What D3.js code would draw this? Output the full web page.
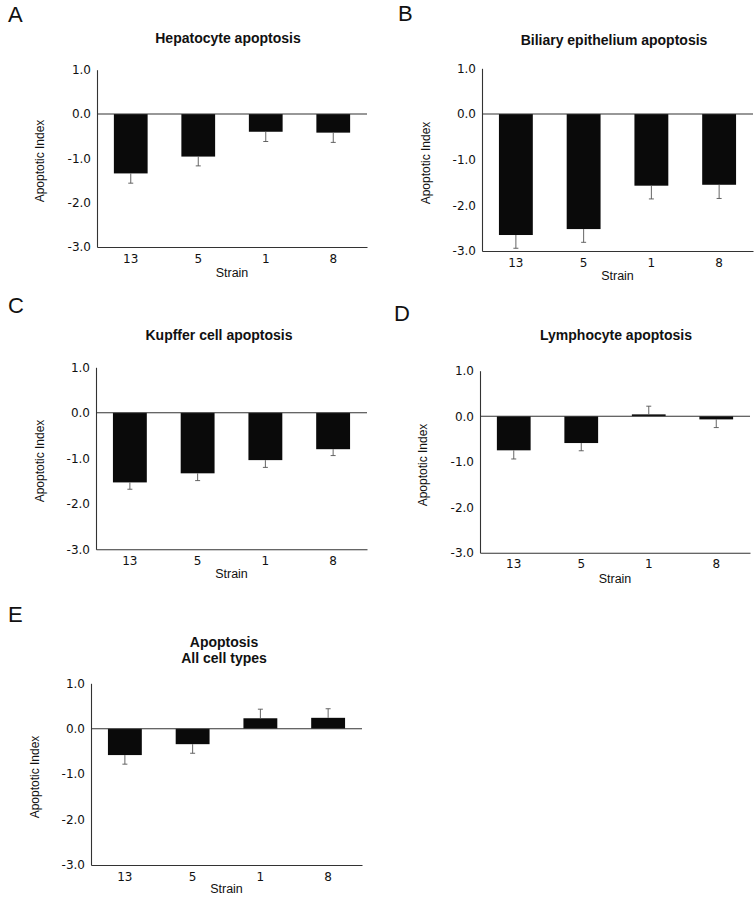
<!DOCTYPE html>
<html>
<head>
<meta charset="utf-8">
<script src="https://cdn.jsdelivr.net/npm/d3@7"></script>
<style>
  html, body { margin: 0; padding: 0; background: #fff; }
  svg { display: block; }
</style>
</head>
<body>
<svg id="chart" width="756" height="899"></svg>
<script>
// ---- data ----
const strains = ["13", "5", "1", "8"];
const yTicks = [1.0, 0.0, -1.0, -2.0, -3.0];

const hepatocyte    = [-1.34, -0.96, -0.40, -0.42];
const hepatocyteErr = [0.22, 0.21, 0.22, 0.22];

const biliary       = [-2.65, -2.52, -1.57, -1.55];
const biliaryErr    = [0.29, 0.29, 0.29, 0.30];

const kupffer       = [-1.53, -1.33, -1.04, -0.80];
const kupfferErr    = [0.15, 0.16, 0.16, 0.14];

const lymphocyte    = [-0.75, -0.59, 0.04, -0.07];
const lymphocyteErr = [0.19, 0.17, 0.18, 0.18];

const allTypes      = [-0.58, -0.34, 0.23, 0.24];
const allTypesErr   = [0.20, 0.20, 0.20, 0.20];

const panelLetters = ["A", "B", "C", "D", "E"];
const panelTitles = [
  ["Hepatocyte apoptosis"],
  ["Biliary epithelium apoptosis"],
  ["Kupffer cell apoptosis"],
  ["Lymphocyte apoptosis"],
  ["Apoptosis", "All cell types"]
];
const yLabel = "Apoptotic Index";
const xLabel = "Strain";

// ---- layout (positions only) ----
const layout = [
  { x0: 97,  x1: 367, yTop: 69.7,  yBot: 247,   letterX: 8,   letterY: 22,  titleX: 228, titleY: 43,  xlabY: 277, ylabX: 40,  ylabY: 161 },
  { x0: 482, x1: 753, yTop: 68.3,  yBot: 251,   letterX: 398, letterY: 21,  titleX: 614, titleY: 45,  xlabY: 280, ylabX: 426, ylabY: 163 },
  { x0: 96,  x1: 367, yTop: 367.3, yBot: 549.3, letterX: 8,   letterY: 313, titleX: 219, titleY: 340, xlabY: 578, ylabX: 40,  ylabY: 461 },
  { x0: 480, x1: 750, yTop: 370.7, yBot: 552.7, letterX: 394, letterY: 321, titleX: 616, titleY: 340, xlabY: 583, ylabX: 423, ylabY: 465 },
  { x0: 91,  x1: 362, yTop: 683.3, yBot: 865,   letterX: 8,   letterY: 622, titleX: 224, titleY: 647, xlabY: 893, ylabX: 35,  ylabY: 777 }
];

const series = [
  [hepatocyte, hepatocyteErr],
  [biliary, biliaryErr],
  [kupffer, kupfferErr],
  [lymphocyte, lymphocyteErr],
  [allTypes, allTypesErr]
];

const svg = d3.select("#chart");
const axisColor = "#333";
const errColor = "#555";
const sansH = "'Liberation Sans', Arial, Helvetica, sans-serif";
const sansG = "'DejaVu Sans', Verdana, sans-serif";

layout.forEach((L, i) => {
  const [vals, errs] = series[i];
  const g = svg.append("g");

  const x = d3.scaleBand().domain(strains).range([L.x0, L.x1])
    .paddingInner(0.5).paddingOuter(0.25);
  const y = d3.scaleLinear().domain([1, -3]).range([L.yTop, L.yBot]);

  // panel letter
  g.append("text")
    .attr("x", L.letterX).attr("y", L.letterY)
    .attr("font-family", sansH).attr("font-size", 22)
    .attr("fill", "#111")
    .text(panelLetters[i]);

  // title
  panelTitles[i].forEach((t, k) => {
    g.append("text")
      .attr("x", L.titleX).attr("y", L.titleY + k * 16)
      .attr("text-anchor", "middle")
      .attr("font-family", sansH).attr("font-size", 14).attr("font-weight", "bold")
      .attr("fill", "#111")
      .text(t);
  });

  // y axis
  const yAxis = d3.axisLeft(y).tickValues(yTicks)
    .tickFormat(d => d.toFixed(1))
    .tickSize(0).tickSizeOuter(0).tickPadding(6);
  const ya = g.append("g").attr("transform", `translate(${L.x0},0)`).call(yAxis);
  ya.select(".domain").attr("stroke", axisColor).attr("stroke-width", 1.1);
  ya.selectAll("text").attr("font-family", sansG).attr("font-size", 12).attr("fill", "#111");

  // x axis (at bottom, -3.0)
  const xAxis = d3.axisBottom(x).tickSize(0).tickSizeOuter(0).tickPadding(7);
  const xa = g.append("g").attr("transform", `translate(0,${y(-3)})`).call(xAxis);
  xa.select(".domain").attr("stroke", axisColor).attr("stroke-width", 1.1);
  xa.selectAll("text").attr("font-family", sansG).attr("font-size", 12).attr("fill", "#111");

  // bars
  g.selectAll("rect.bar").data(vals).enter().append("rect")
    .attr("class", "bar")
    .attr("x", (d, j) => x(strains[j]))
    .attr("width", x.bandwidth())
    .attr("y", d => y(Math.max(0, d)))
    .attr("height", d => Math.abs(y(d) - y(0)))
    .attr("fill", "#0a0a0a");

  // error bars (one-sided, away from zero)
  const tip = (d, j) => y(d + (d >= 0 ? errs[j] : -errs[j]));
  const cx = (d, j) => x(strains[j]) + x.bandwidth() / 2;
  const eb = g.selectAll("g.err").data(vals).enter().append("g").attr("class", "err");
  eb.append("line")
    .attr("x1", cx).attr("x2", cx)
    .attr("y1", d => y(d)).attr("y2", tip)
    .attr("stroke", errColor).attr("stroke-width", 0.9);
  eb.append("line")
    .attr("x1", (d, j) => cx(d, j) - 2.5)
    .attr("x2", (d, j) => cx(d, j) + 2.5)
    .attr("y1", tip).attr("y2", tip)
    .attr("stroke", errColor).attr("stroke-width", 0.9);

  // zero line
  g.append("line")
    .attr("x1", L.x0).attr("x2", L.x1)
    .attr("y1", y(0)).attr("y2", y(0))
    .attr("stroke", axisColor).attr("stroke-width", 1.1);

  // x label
  g.append("text")
    .attr("x", (L.x0 + L.x1) / 2).attr("y", L.xlabY)
    .attr("text-anchor", "middle")
    .attr("font-family", sansH).attr("font-size", 12.5)
    .attr("fill", "#111")
    .text(xLabel);

  // y label
  g.append("text")
    .attr("transform", `translate(${L.ylabX},${L.ylabY}) rotate(-90)`)
    .attr("text-anchor", "middle").attr("dy", "0.35em")
    .attr("font-family", sansH).attr("font-size", 12)
    .attr("fill", "#111")
    .text(yLabel);
});
</script>
</body>
</html>
